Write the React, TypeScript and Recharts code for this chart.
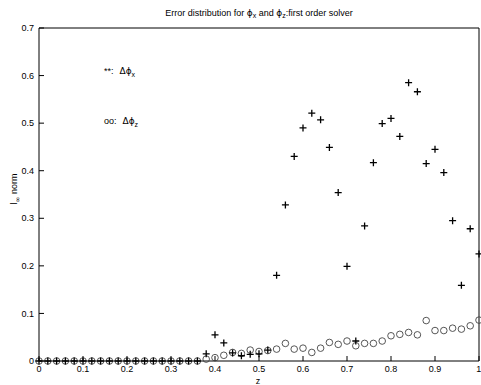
import { Scatter, ScatterChart, XAxis, YAxis } from "recharts";

const Z = [
  0, 0.02, 0.04, 0.06, 0.08, 0.1, 0.12, 0.14, 0.16, 0.18, 0.2, 0.22, 0.24, 0.26, 0.28, 0.3, 0.32,
  0.34, 0.36, 0.38, 0.4, 0.42, 0.44, 0.46, 0.48, 0.5, 0.52, 0.54, 0.56, 0.58, 0.6, 0.62, 0.64,
  0.66, 0.68, 0.7, 0.72, 0.74, 0.76, 0.78, 0.8, 0.82, 0.84, 0.86, 0.88, 0.9, 0.92, 0.94, 0.96,
  0.98, 1,
];

const PHI_X = [
  0, 0, 0, 0, 0, 0, 0, 0, 0, 0, 0, 0, 0, 0, 0, 0, 0, 0, 0, 0.015, 0.055, 0.038, 0.017, 0.011,
  0.014, 0.015, 0.023, 0.18, 0.328, 0.43, 0.49, 0.521, 0.507, 0.449, 0.354, 0.199, 0.042, 0.284,
  0.417, 0.499, 0.51, 0.472, 0.585, 0.566, 0.415, 0.445, 0.396, 0.295, 0.159, 0.278, 0.225,
];

const PHI_Z = [
  0, 0, 0, 0, 0, 0, 0, 0, 0, 0, 0, 0, 0, 0, 0, 0, 0, 0, 0, 0.004, 0.007, 0.012, 0.018, 0.016,
  0.023, 0.02, 0.022, 0.025, 0.037, 0.025, 0.027, 0.018, 0.027, 0.039, 0.035, 0.042, 0.032, 0.037,
  0.037, 0.042, 0.053, 0.056, 0.06, 0.055, 0.085, 0.064, 0.064, 0.069, 0.067, 0.074, 0.086,
];

const X_TICKS = [0, 0.1, 0.2, 0.3, 0.4, 0.5, 0.6, 0.7, 0.8, 0.9, 1];
const Y_TICKS = [0, 0.1, 0.2, 0.3, 0.4, 0.5, 0.6, 0.7];

const FONT = "'Liberation Sans', Arial, Helvetica, sans-serif";
const SYM = "'DejaVu Sans'";

const xData = Z.map((z, i) => ({ z, v: PHI_X[i] }));
const zData = Z.map((z, i) => ({ z, v: PHI_Z[i] }));

const Plus = (p: any) => (
  <path
    d={`M${p.cx - 3.5},${p.cy}H${p.cx + 3.5}M${p.cx},${p.cy - 3.5}V${p.cy + 3.5}`}
    stroke="#000"
    strokeWidth={1.3}
  />
);

const Ring = (p: any) => (
  <circle cx={p.cx} cy={p.cy} r={3.3} fill="none" stroke="#444" strokeWidth={0.9} />
);

const noLabel = () => <g />;
const tickStyle = { fontSize: 9, fill: "#000", fontFamily: FONT };

export default function App() {
  return (
    <div style={{ position: "absolute", left: 0, top: 0, width: 481, height: 385, background: "#fff" }}>
      <ScatterChart width={481} height={385} margin={{ top: 27, right: 1, bottom: 23, left: 38 }}>
        <XAxis
          xAxisId="b"
          dataKey="z"
          type="number"
          domain={[0, 1]}
          ticks={X_TICKS}
          height={1}
          tickSize={-5}
          tickMargin={10}
          stroke="#000"
          tick={tickStyle}
        />
        <XAxis
          xAxisId="t"
          orientation="top"
          dataKey="z"
          type="number"
          domain={[0, 1]}
          ticks={X_TICKS}
          height={1}
          tickSize={-5}
          stroke="#000"
          tick={noLabel}
        />
        <YAxis
          yAxisId="l"
          dataKey="v"
          type="number"
          domain={[0, 0.7]}
          ticks={Y_TICKS}
          width={1}
          tickSize={-5}
          tickMargin={10}
          stroke="#000"
          tick={tickStyle}
        />
        <YAxis
          yAxisId="r"
          orientation="right"
          dataKey="v"
          type="number"
          domain={[0, 0.7]}
          ticks={Y_TICKS}
          width={1}
          tickSize={-5}
          stroke="#000"
          tick={noLabel}
        />
        <Scatter xAxisId="b" yAxisId="l" data={zData} shape={Ring} isAnimationActive={false} />
        <Scatter xAxisId="b" yAxisId="l" data={xData} shape={Plus} isAnimationActive={false} />
      </ScatterChart>
      <svg
        width={481}
        height={385}
        style={{ position: "absolute", left: 0, top: 0, pointerEvents: "none" }}
        fontFamily={FONT}
        fill="#000"
      >
        <text x={259} y={16} fontSize={9} textAnchor="middle" fill="#000">
          Error distribution for <tspan fontFamily={SYM}>ϕ</tspan>
          <tspan fontSize={7} dy={2}>x</tspan>
          <tspan dy={-2}> and </tspan>
          <tspan fontFamily={SYM}>ϕ</tspan>
          <tspan fontSize={7} dy={2}>z</tspan>
          <tspan dy={-2}>:first order solver</tspan>
        </text>
        <text x={258} y={384} fontSize={9} textAnchor="middle" fill="#000">
          z
        </text>
        <text transform="translate(17,189) rotate(-90)" fontSize={9} textAnchor="middle" fill="#000">
          l<tspan fontSize={7} dy={3} fontFamily={SYM}>∞</tspan>
          <tspan dy={-3}> norm</tspan>
        </text>
        <text x={104} y={74} fontSize={9} fill="#000">
          **:
          <tspan dx={6} fontFamily={SYM}>Δϕ</tspan>
          <tspan fontSize={7} dy={3}>x</tspan>
        </text>
        <text x={104} y={124} fontSize={9} fill="#000">
          oo:
          <tspan dx={6} fontFamily={SYM}>Δϕ</tspan>
          <tspan fontSize={7} dy={3}>z</tspan>
        </text>
      </svg>
    </div>
  );
}
